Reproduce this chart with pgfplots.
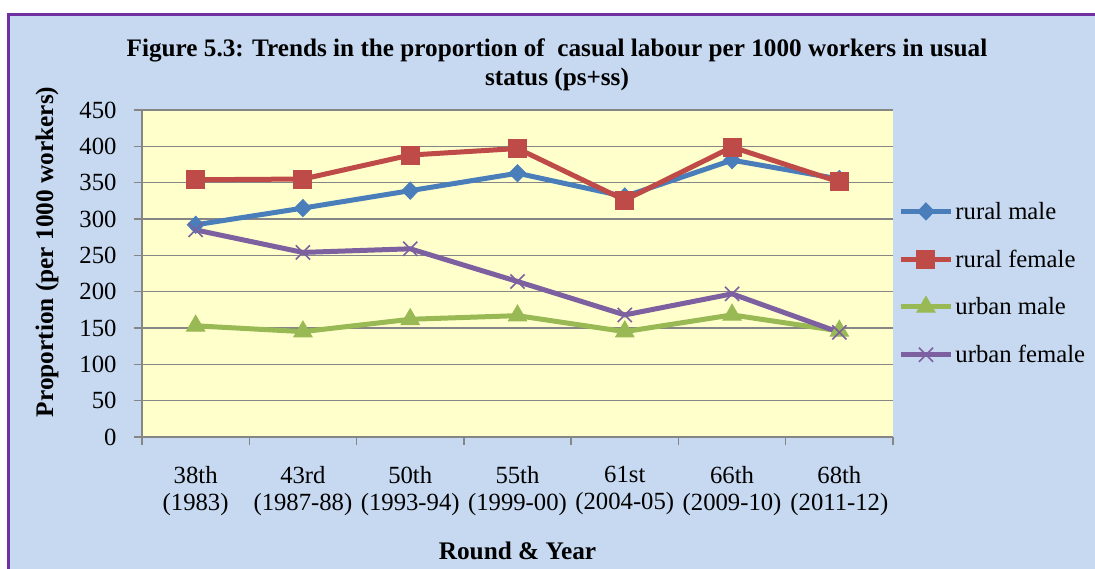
\documentclass[border=0pt]{standalone}
\usepackage{fontspec}
\setmainfont{Liberation Serif}
\usepackage{pgfplots}
\pgfplotsset{compat=1.18}
\definecolor{bgblue}{HTML}{C6D9F1}
\definecolor{plotyel}{HTML}{FFFFCC}
\definecolor{brd}{HTML}{7030A0}
\definecolor{gridg}{HTML}{868686}
\definecolor{cblue}{HTML}{4A7EBB}
\definecolor{cred}{HTML}{BE4B48}
\definecolor{cgreen}{HTML}{98B954}
\definecolor{cpurp}{HTML}{7D60A0}
\begin{document}
\begin{tikzpicture}[font=\fontsize{24.7}{27}\selectfont]
\useasboundingbox (0,0) rectangle (1095pt,-569pt);
\fill[white] (0,0) rectangle (1095pt,-569pt);
\begin{scope}
\clip (0,0) rectangle (1095pt,-569pt);
\draw[brd, line width=3pt, fill=bgblue] (8.5pt,-14.3pt) rectangle (1110pt,-590pt);
\end{scope}
\node[font=\fontsize{25.2}{29}\selectfont\bfseries, anchor=base] at (557pt,-57pt)
 {Figure 5.3: Trends in the proportion of\ \ casual labour per 1000 workers in usual};
\node[font=\fontsize{25.2}{29}\selectfont\bfseries, anchor=base] at (557pt,-86pt) {status (ps+ss)};
\begin{axis}[
 at={(142pt,-437pt)}, anchor=south west,
 width=751pt, height=327pt, scale only axis,
 xmin=-0.5, xmax=6.5, ymin=0, ymax=450,
 ytick={0,50,...,450},
 yticklabels={0,50,100,150,200,250,300,350,400,450},
 axis background/.style={fill=plotyel},
 axis lines*=left, axis line style={gridg, line width=1.3pt, -},
 ymajorgrids, grid style={gridg, line width=1.3pt},
 tick align=outside, major tick length=8pt,
 tick style={gridg, line width=1.3pt},
 xtick={-0.5,0.5,...,6.5}, xticklabels={},
 extra x ticks={0,1,2,3,4,5,6},
 extra x tick labels={{38th\\(1983)},{43rd\\(1987-88)},{50th\\(1993-94)},{55th\\(1999-00)},{61st\\(2004-05)},{66th\\(2009-10)},{68th\\(2011-12)}},
 extra x tick style={major tick length=0pt, tick style={draw=none}},
 xticklabel style={align=center, yshift=-26pt},
 yticklabel style={xshift=-14pt},
 xlabel={Round \& Year}, xlabel style={font=\fontsize{25.3}{27}\selectfont\bfseries, at={(axis description cs:0.5,-0.3486)}, anchor=center},
 ylabel={Proportion (per 1000 workers)}, ylabel style={font=\fontsize{25.3}{27}\selectfont\bfseries, at={(axis description cs:-0.1265,0.566)}, anchor=center},
 legend style={at={(1.007,0.725)}, anchor=north west, draw=none, fill=none, row sep=25pt, inner sep=0pt, font=\fontsize{24.7}{27}\selectfont},
 legend cell align=left,
 legend image code/.code={\draw[mark repeat=2,mark phase=2,#1] plot coordinates {(0pt,0pt) (25pt,0pt) (50pt,0pt)};},
]
\addplot[cblue, line width=5pt, mark=diamond*, mark size=8.5pt, mark options={xscale=1.3, line width=1pt}] coordinates {(0,292) (1,315) (2,339) (3,363) (4,331) (5,381) (6,355)};
\addlegendentry{rural male}
\addplot[cred, line width=5pt, mark=square*, mark size=9pt, mark options={line width=1pt}] coordinates {(0,354) (1,355) (2,388) (3,397) (4,326) (5,399) (6,351)};
\addlegendentry{rural female}
\addplot[cgreen, line width=5pt, mark=triangle*, mark size=10.5pt, mark options={line width=1pt}] coordinates {(0,153) (1,145) (2,162) (3,167) (4,145) (5,168) (6,146)};
\addlegendentry{urban male}
\addplot[cpurp, line width=5pt, mark=x, mark size=10pt, mark options={line width=1.6pt}] coordinates {(0,285) (1,254) (2,259) (3,214) (4,168) (5,197) (6,144)};
\addlegendentry{urban female}
\end{axis}
\end{tikzpicture}
\end{document}
